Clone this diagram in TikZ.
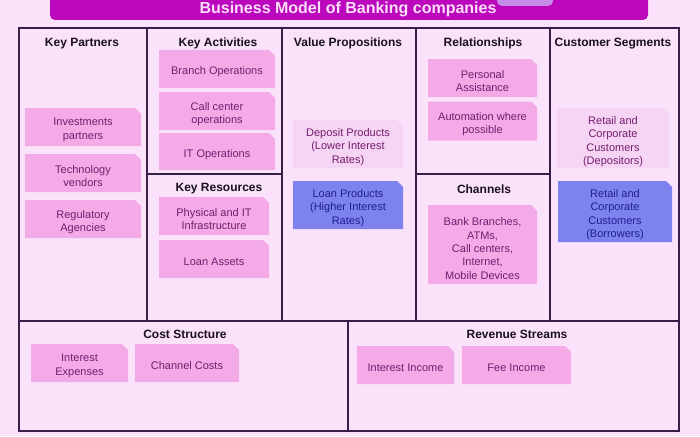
\documentclass[tikz,border=0pt]{standalone}
\usepackage{fontspec}
\setmainfont{Liberation Sans}
\definecolor{bgpink}{RGB}{250,226,250}
\definecolor{barmag}{RGB}{188,8,188}
\definecolor{bumplav}{RGB}{196,140,232}
\definecolor{titletxt}{RGB}{250,222,250}
\definecolor{framecol}{RGB}{52,32,72}
\definecolor{headtxt}{RGB}{25,15,35}
\definecolor{notepink}{RGB}{245,170,232}
\definecolor{notelight}{RGB}{246,212,244}
\definecolor{noteblue}{RGB}{126,130,236}
\definecolor{notetxt}{RGB}{116,28,110}
\definecolor{bluetxt}{RGB}{30,30,150}
\begin{document}
\begin{tikzpicture}[x=1pt,y=-1pt,
  hd/.style={font=\fontsize{12}{14}\selectfont\bfseries, text=headtxt},
  note/.style={rectangle, inner sep=0pt, path picture={
    \fill[#1] (path picture bounding box.south west) -- (path picture bounding box.north west)
      -- ([xshift=-6pt]path picture bounding box.north east)
      -- ([yshift=-6pt]path picture bounding box.north east)
      -- (path picture bounding box.south east) -- cycle;}},
  note/.default=notepink,
  txt/.style={align=center, inner sep=0pt, text=notetxt, font=\fontsize{11}{13.4}\selectfont},
  btxt/.style={txt, text=bluetxt}]
\useasboundingbox[fill=bgpink] (0,0) rectangle (700,436);
\fill[barmag, rounded corners=5pt] (50,-8) rectangle (648,20);
\fill[bumplav, rounded corners=5pt] (497,-8) rectangle (553,6);
\node[font=\fontsize{16}{18}\selectfont\bfseries, text=titletxt] (t) at (348,9.5) {Business Model of Banking companies};
\draw[framecol, line width=1.4pt] (19,28) rectangle (679,431);
\draw[framecol, line width=1.4pt] (147,28) -- (147,321);
\draw[framecol, line width=1.4pt] (282,28) -- (282,321);
\draw[framecol, line width=1.4pt] (416,28) -- (416,321);
\draw[framecol, line width=1.4pt] (550,28) -- (550,321);
\draw[framecol, line width=1.4pt] (19,321) -- (679,321);
\draw[framecol, line width=1.4pt] (147,174) -- (282,174);
\draw[framecol, line width=1.4pt] (416,174) -- (550,174);
\draw[framecol, line width=1.4pt] (348,321) -- (348,431);
\node[hd] (kp) at (82,43.5) {Key Partners};
\node[hd] (ka) at (218,43.5) {Key Activities};
\node[hd] (vp) at (348,43.5) {Value Propositions};
\node[hd] (rel) at (483,43.5) {Relationships};
\node[hd] (cs) at (613,43.5) {Customer Segments};
\node[hd] (kr) at (219,188.5) {Key Resources};
\node[hd] (ch) at (484,189.5) {Channels};
\node[hd] (cost) at (185,334.5) {Cost Structure};
\node[hd] (rev) at (517,334.5) {Revenue Streams};
\node[note, minimum width=116pt, minimum height=38pt] (p1) at (83,127) {};
\node[txt] (p1t) at (83,130) {Investments\\partners};
\node[note, minimum width=116pt, minimum height=38pt] (p2) at (83,173) {};
\node[txt] (p2t) at (83,176) {Technology\\vendors};
\node[note, minimum width=116pt, minimum height=38pt] (p3) at (83,219) {};
\node[txt] (p3t) at (83,222) {Regulatory\\Agencies};
\node[note, minimum width=116pt, minimum height=38pt] (a1) at (217,69) {};
\node[txt] (a1t) at (217,72) {Branch Operations};
\node[note, minimum width=116pt, minimum height=38pt] (a2) at (217,111) {};
\node[txt] (a2t) at (217,114) {Call center\\operations};
\node[note, minimum width=116pt, minimum height=37pt] (a3) at (217,151.5) {};
\node[txt] (a3t) at (217,154.5) {IT Operations};
\node[note, minimum width=110pt, minimum height=38pt] (r1) at (214,216) {};
\node[txt] (r1t) at (214,219) {Physical and IT\\Infrastructure};
\node[note, minimum width=110pt, minimum height=38pt] (r2) at (214,259) {};
\node[txt] (r2t) at (214,262) {Loan Assets};
\node[note=notelight, minimum width=110pt, minimum height=48pt] (v1) at (348,144) {};
\node[txt] (v1t) at (348,147) {Deposit Products\\(Lower Interest\\Rates)};
\node[note=noteblue, minimum width=110pt, minimum height=48pt] (v2) at (348,205) {};
\node[btxt] (v2t) at (348,208) {Loan Products\\(Higher Interest\\Rates)};
\node[note, minimum width=109pt, minimum height=38pt] (s1) at (482.5,78) {};
\node[txt] (s1t) at (482.5,81) {Personal\\Assistance};
\node[note, minimum width=109pt, minimum height=39pt] (s2) at (482.5,121) {};
\node[txt] (s2t) at (482.5,124) {Automation where\\possible};
\node[note, minimum width=109pt, minimum height=79pt] (c1) at (482.5,244.5) {};
\node[txt] (c1t) at (482.5,248.5) {Bank Branches,\\ATMs,\\Call centers,\\Internet,\\Mobile Devices};
\node[note=notelight, minimum width=112pt, minimum height=60pt] (g1) at (613,138) {};
\node[txt] (g1t) at (613,141.5) {Retail and\\Corporate\\Customers\\(Depositors)};
\node[note=noteblue, minimum width=114pt, minimum height=61pt] (g2) at (615,211.5) {};
\node[btxt] (g2t) at (615,214.5) {Retail and\\Corporate\\Customers\\(Borrowers)};
\node[note, minimum width=97pt, minimum height=38pt] (e1) at (79.5,363) {};
\node[txt] (e1t) at (79.5,366) {Interest\\Expenses};
\node[note, minimum width=104pt, minimum height=38pt] (e2) at (187,363) {};
\node[txt] (e2t) at (187,366) {Channel Costs};
\node[note, minimum width=97pt, minimum height=38pt] (i1) at (405.5,365) {};
\node[txt] (i1t) at (405.5,368) {Interest Income};
\node[note, minimum width=109pt, minimum height=38pt] (i2) at (516.5,365) {};
\node[txt] (i2t) at (516.5,368) {Fee Income};
\end{tikzpicture}
\end{document}
